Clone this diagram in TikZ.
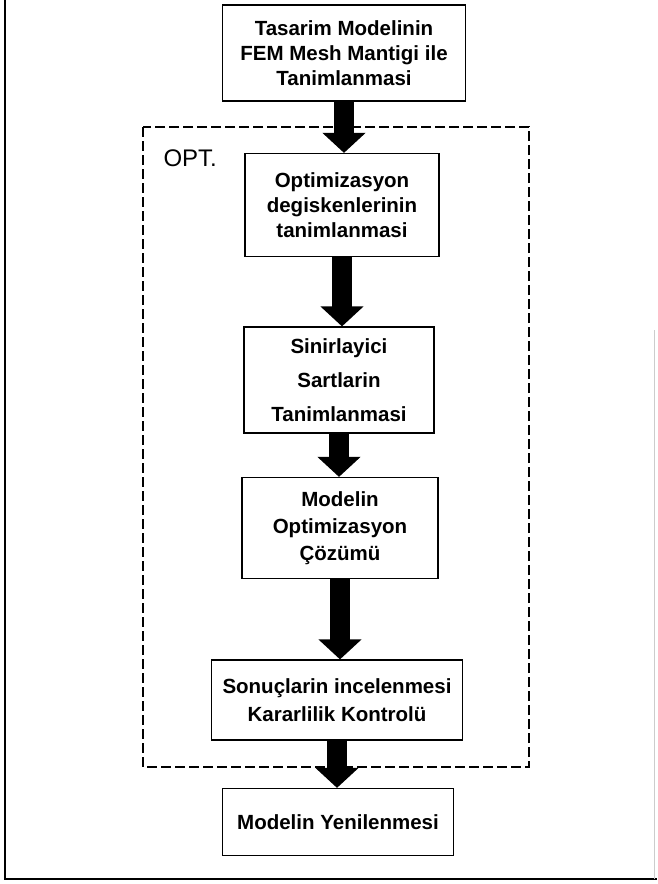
\documentclass[tikz,border=0pt]{standalone}
\usepackage{fontspec}
\setmainfont{Liberation Sans}
\usetikzlibrary{arrows.meta}

\begin{document}
\begin{tikzpicture}[x=1pt,y=-1pt,
   box/.style={draw,line width=1.2pt,align=center,inner sep=0pt,
      font=\bfseries\fontsize{20.5}{25}\selectfont},
   fat/.style={line width=20pt,-{Triangle[width=42pt,length=20pt]}}]
   \useasboundingbox (0,0) rectangle (657,884);
   % page frame
   \draw[line width=1.6pt] (5,0) -- (5,879) -- (657,879);
   \draw[gray!40,line width=0.8pt] (654,330) -- (654,879);
   % optimisation loop
   \draw[line width=1.2pt,dash pattern=on 10pt off 4pt] (143,127) rectangle (529,767);
   \node[font=\fontsize{24}{28}\selectfont,anchor=base west] (opt) at (160,166) {OPT.};
   % steps
   \node[box,minimum width=243pt,minimum height=96pt] (tasarim) at (344,53)
      {Tasarim Modelinin\\FEM Mesh Mantigi ile\\Tanimlanmasi};
   \node[box,minimum width=194pt,minimum height=103pt] (degisken) at (342,205)
      {Optimizasyon\\degiskenlerinin\\tanimlanmasi};
   \node[box,minimum width=190pt,minimum height=106pt,
      font=\bfseries\fontsize{20.5}{34}\selectfont] (sinir) at (339,380)
      {Sinirlayici\\Sartlarin\\Tanimlanmasi};
   \node[box,minimum width=196pt,minimum height=101pt,
      font=\bfseries\fontsize{20.5}{27}\selectfont] (cozum) at (340,528)
      {Modelin\\Optimizasyon\\Çözümü};
   \node[box,minimum width=251pt,minimum height=80pt,
      font=\bfseries\fontsize{20.5}{28}\selectfont] (sonuc) at (337,700)
      {Sonuçlarin incelenmesi\\Kararlilik Kontrolü};
   \node[box,minimum width=231pt,minimum height=67pt] (yenile) at (338,822)
      {Modelin Yenilenmesi};
   % arrows
   \draw[fat] (tasarim.south) -- (tasarim.south |- degisken.north);
   \draw[fat] (degisken.south) -- (degisken.south |- sinir.north);
   \draw[fat] (sinir.south) -- (sinir.south |- cozum.north);
   \draw[fat] (cozum.south) -- (cozum.south |- sonuc.north);
   \draw[fat] (sonuc.south) -- (sonuc.south |- yenile.north);
\end{tikzpicture}
\end{document}
